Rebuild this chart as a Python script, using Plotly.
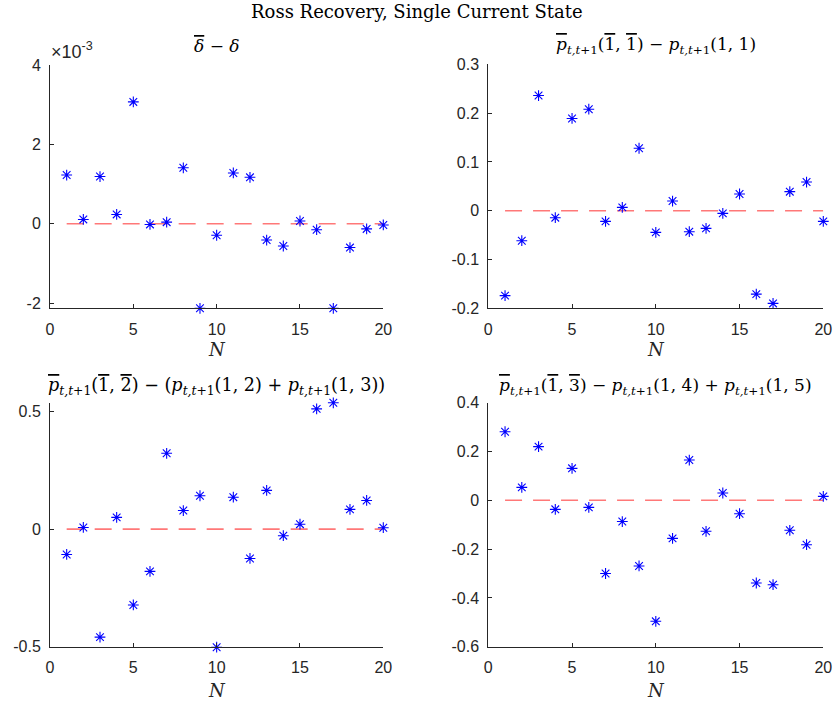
import plotly.graph_objects as go

N = list(range(1, 21))

delta_diff = [1.227e-3, 0.109e-3, 1.19e-3, 0.235e-3, 3.07e-3, -0.017e-3, 0.04e-3, 1.41e-3,
              -2.13e-3, -0.29e-3, 1.28e-3, 1.17e-3, -0.41e-3, -0.56e-3, 0.07e-3, -0.15e-3,
              -2.13e-3, -0.60e-3, -0.13e-3, -0.03e-3]
p11_diff = [-0.174, -0.0615, 0.236, -0.0143, 0.189, 0.208, -0.0219, 0.0068, 0.128, -0.0444,
            0.0198, -0.043, -0.0362, -0.0055, 0.0342, -0.171, -0.190, 0.039, 0.0587, -0.0219]
p12_diff = [-0.108, 0.007, -0.46, 0.05, -0.323, -0.18, 0.323, 0.079, 0.142, -0.503,
            0.136, -0.125, 0.165, -0.028, 0.021, 0.512, 0.538, 0.084, 0.122, 0.006]
p13_diff = [0.281, 0.053, 0.22, -0.037, 0.131, -0.029, -0.30, -0.087, -0.269, -0.496,
            -0.156, 0.165, -0.127, 0.030, -0.055, -0.339, -0.346, -0.123, -0.182, 0.016]

x_ticks = [0, 5, 10, 15, 20]
y_ticks1 = [-0.002, 0, 0.002, 0.004]
y_text1 = ["-2", "0", "2", "4"]
y_ticks2 = [-0.2, -0.1, 0, 0.1, 0.2, 0.3]
y_text2 = ["-0.2", "-0.1", "0", "0.1", "0.2", "0.3"]
y_ticks3 = [-0.5, 0, 0.5]
y_text3 = ["-0.5", "0", "0.5"]
y_ticks4 = [-0.6, -0.4, -0.2, 0, 0.2, 0.4]
y_text4 = ["-0.6", "-0.4", "-0.2", "0", "0.2", "0.4"]


def ol(s):
    return f'<span style="text-decoration:overline">{s}</span>'


sub = "<sub><i>t,t</i>+1</sub>"
titles = [
    f"{ol('<i>δ</i>')} − <i>δ</i>",
    f"{ol('<i>p</i>')}{sub}({ol('1')}, {ol('1')}) − <i>p</i>{sub}(1, 1)",
    f"{ol('<i>p</i>')}{sub}({ol('1')}, {ol('2')}) − (<i>p</i>{sub}(1, 2) + <i>p</i>{sub}(1, 3))",
    f"{ol('<i>p</i>')}{sub}({ol('1')}, {ol('3')}) − <i>p</i>{sub}(1, 4) + <i>p</i>{sub}(1, 5)",
]

W, H = 834, 704
# pixel boxes: (x0, x1, ytop, ybottom)
boxes = [(50, 383.3, 65, 308.3), (488.3, 823.3, 64.3, 308.3),
         (50, 383.3, 402.8, 647.2), (488.3, 823.3, 402.7, 646.7)]
yranges = [[-2.13e-3, 4e-3], [-0.2, 0.3], [-0.503, 0.538], [-0.6, 0.4]]
yticks = [(y_ticks1, y_text1), (y_ticks2, y_text2), (y_ticks3, y_text3), (y_ticks4, y_text4)]
series = [delta_diff, p11_diff, p12_diff, p13_diff]
title_y = [46, 46, 386, 386]
title_size = [17, 17, 17.6, 17]
xlabel_y = [350, 350, 690, 690]

AX = "#262626"
TICKFONT = dict(family="Liberation Sans", size=16, color=AX)
SERIF = "DejaVu Serif"
fig = go.Figure()
layout = dict(width=W, height=H, margin=dict(l=0, r=0, t=0, b=0, autoexpand=False),
              paper_bgcolor="white", plot_bgcolor="white", showlegend=False)
annotations = []
for i in range(4):
    x0, x1, yt, yb = boxes[i]
    xa = "xaxis" if i == 0 else f"xaxis{i+1}"
    ya = "yaxis" if i == 0 else f"yaxis{i+1}"
    xr = "x" if i == 0 else f"x{i+1}"
    yr = "y" if i == 0 else f"y{i+1}"
    layout[xa] = dict(domain=[x0 / W, x1 / W], anchor=yr, range=[0, 20],
                      tickvals=x_ticks, ticktext=[str(v) for v in x_ticks],
                      ticks="inside", ticklen=4, tickcolor=AX, showline=True, linecolor=AX,
                      linewidth=1, showgrid=False, zeroline=False, ticklabelstandoff=6,
                      tickfont=TICKFONT, automargin=False)
    layout[ya] = dict(domain=[1 - yb / H, 1 - yt / H], anchor=xr, range=yranges[i],
                      tickvals=yticks[i][0], ticktext=yticks[i][1],
                      ticks="inside", ticklen=4, tickcolor=AX, showline=True, linecolor=AX,
                      linewidth=1, showgrid=False, zeroline=False, ticklabelstandoff=5,
                      tickfont=TICKFONT, automargin=False)
    fig.add_trace(go.Scatter(x=[N[0], N[-1]], y=[0, 0], mode="lines", xaxis=xr, yaxis=yr,
                             line=dict(color="rgba(255,30,30,0.6)", width=1.6, dash="17px,11px")))
    fig.add_trace(go.Scatter(x=N, y=series[i], mode="markers", xaxis=xr, yaxis=yr, cliponaxis=False,
                             marker=dict(symbol="asterisk-open", size=9, color="blue",
                                         line=dict(color="blue", width=1.1))))
    cx = (x0 + x1) / 2 / W
    annotations.append(dict(text=titles[i], x=cx, y=1 - title_y[i] / H, xref="paper", yref="paper",
                            xanchor="center", yanchor="middle", showarrow=False,
                            font=dict(family=SERIF, size=title_size[i], color="black")))
    annotations.append(dict(text="<i>N</i>", x=cx, y=1 - xlabel_y[i] / H, xref="paper", yref="paper",
                            xanchor="center", yanchor="middle", showarrow=False,
                            font=dict(family=SERIF, size=18, color=AX)))

annotations.append(dict(text="×10<sup>-3</sup>", x=49 / W, y=1 - 64 / H, xref="paper", yref="paper",
                        xanchor="left", yanchor="bottom", showarrow=False,
                        font=dict(family="Liberation Sans", size=18, color=AX)))
annotations.append(dict(text="Ross Recovery, Single Current State", x=0.5, y=1 - 11 / H,
                        xref="paper", yref="paper", xanchor="center", yanchor="middle",
                        showarrow=False, font=dict(family=SERIF, size=18, color="black")))
layout["annotations"] = annotations
fig.update_layout(**layout)
fig.write_html("out.html", config={"displayModeBar": False},
               post_script="document.body.style.margin='0px';")
